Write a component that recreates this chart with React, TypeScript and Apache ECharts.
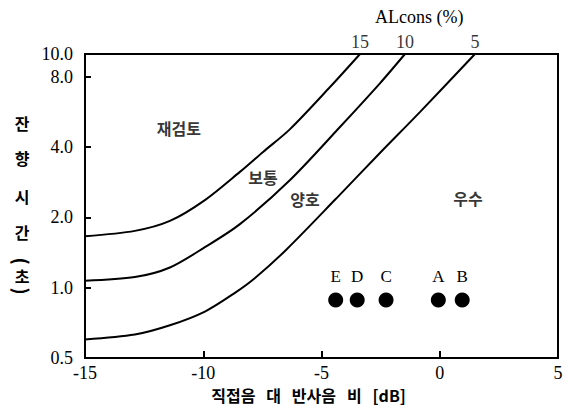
import React, { useEffect, useRef } from "react";
import * as echarts from "echarts";

// ALcons curves (x: direct-to-reverberant ratio dB, y: reverberation time s)
const curve15X = [-15, -12.89, -11.41, -9.93, -8.45, -7.47, -6.33, -4.64, -3.37];
const curve15Y = [1.66, 1.75, 1.93, 2.37, 3.13, 3.81, 4.77, 7.22, 10];
const curve10X = [-15, -12.89, -11.41, -9.93, -8.45, -6.33, -4.22, -2.53, -1.47];
const curve10Y = [1.07, 1.11, 1.22, 1.49, 1.87, 2.89, 4.87, 7.49, 10];
const curve5X = [-15, -12.89, -11.41, -9.93, -8.66, -7.81, -6.5, -4.39, -2.53, -0.84, 1.49];
const curve5Y = [0.6, 0.63, 0.69, 0.79, 0.95, 1.1, 1.45, 2.4, 3.77, 5.64, 10];
const curveNames = ["15", "10", "5"];

// Measured halls
const pointNames = ["E", "D", "C", "A", "B"];
const pointX = [-4.4, -3.49, -2.27, -0.06, 0.95];
const pointY = [0.885, 0.885, 0.885, 0.885, 0.885];

// Region labels
const regionNames = ["재검토", "보통", "양호", "우수"];
const regionX = [-11.03, -7.47, -5.7, 1.19];
const regionY = [4.8, 2.98, 2.39, 2.42];

const yLabelValues = [0.5, 1, 2, 4, 8, 10];
const yTickValues = [1, 2, 4, 8];
const yNameChars = ["잔", "향", "시", "간", "(", "초", ")"];
const yNameCharY = [123, 158, 196, 232, 261, 276, 291];
const yNameRot = [0, 0, 0, 0, -Math.PI / 2, 0, -Math.PI / 2];
const yNameSize = [16, 16, 16, 16, 19, 16, 19];

const SERIF = "'Liberation Serif', 'DejaVu Serif', serif";
const KR = "'Noto Sans CJK KR', sans-serif";

export default function App() {
  const ref = useRef<HTMLDivElement>(null);
  useEffect(() => {
    if (!ref.current) return;
    const chart = echarts.init(ref.current, null, { renderer: "svg" });
    const curves = [
      [curve15X, curve15Y],
      [curve10X, curve10Y],
      [curve5X, curve5Y],
    ];
    const lineSeries = curves.map(([xs, ys], k) => ({
      type: "line",
      name: curveNames[k],
      data: xs.map((x, i) => [x, ys[i]]),
      symbol: "none",
      smooth: 0.3,
      lineStyle: { color: "#000", width: 2 },
      silent: true,
    }));
    const endLabels = curves.map(([xs, ys], k) => ({
      name: curveNames[k],
      value: [xs[xs.length - 1], ys[ys.length - 1]],
    }));
    const option: any = {
      animation: false,
      backgroundColor: "#fff",
      grid: {
        left: 85,
        right: 13,
        top: 54,
        bottom: 52,
        show: true,
        borderColor: "#000",
        borderWidth: 2,
      },
      xAxis: {
        type: "value",
        min: -15,
        max: 5,
        interval: 5,
        name: "직접음   대   반사음   비   [dB]",
        nameLocation: "middle",
        nameGap: 21,
        nameTextStyle: {
          fontFamily: KR,
          fontSize: 16,
          fontWeight: "bold",
          color: "#000",
          padding: [0, 26, 0, 0],
        },
        axisLine: { onZero: false, lineStyle: { color: "#000", width: 2 } },
        axisTick: { inside: true, length: 7, lineStyle: { color: "#000", width: 2 } },
        axisLabel: { fontFamily: SERIF, fontSize: 18, color: "#000", margin: 6 },
        splitLine: { show: false },
      },
      yAxis: {
        type: "log",
        logBase: 10,
        min: 0.5,
        max: 10,
        axisLine: { onZero: false, lineStyle: { color: "#000", width: 2 } },
        axisTick: {
          inside: true,
          length: 6,
          customValues: yTickValues,
          lineStyle: { color: "#000", width: 2 },
        },
        axisLabel: {
          customValues: yLabelValues,
          formatter: (v: number) => v.toFixed(1),
          fontFamily: SERIF,
          fontSize: 18,
          color: "#000",
          margin: 12,
        },
        splitLine: { show: false },
        minorTick: { show: false },
      },
      graphic: [
        {
          type: "text",
          left: 375,
          top: 8,
          style: { text: "ALcons (%)", fontFamily: SERIF, fontSize: 18, fill: "#000" },
        },
        ...yNameChars.map((c, i) => ({
          type: "text",
          x: 22,
          y: yNameCharY[i],
          rotation: yNameRot[i],
          style: {
            text: c,
            fontFamily: KR,
            fontSize: yNameSize[i],
            fontWeight: "bold",
            fill: "#000",
            align: "center",
            verticalAlign: "middle",
          },
        })),
      ],
      series: [
        ...lineSeries,
        {
          type: "scatter",
          data: endLabels,
          symbolSize: 0,
          silent: true,
          label: {
            show: true,
            position: "top",
            distance: 3,
            formatter: "{b}",
            fontFamily: SERIF,
            fontSize: 18,
            color: "#000",
          },
        },
        {
          type: "scatter",
          data: regionNames.map((n, i) => ({ name: n, value: [regionX[i], regionY[i]] })),
          symbolSize: 0,
          silent: true,
          label: {
            show: true,
            position: "inside",
            formatter: "{b}",
            fontFamily: KR,
            fontSize: 16,
            fontWeight: "bold",
            color: "#000",
          },
        },
        {
          type: "scatter",
          data: pointNames.map((n, i) => ({ name: n, value: [pointX[i], pointY[i]] })),
          symbol: "circle",
          symbolSize: 15,
          itemStyle: { color: "#000", opacity: 1 },
          silent: true,
          label: {
            show: true,
            position: "top",
            distance: 8,
            formatter: "{b}",
            fontFamily: SERIF,
            fontSize: 17,
            color: "#000",
          },
        },
      ],
    };
    chart.setOption(option);
    return () => chart.dispose();
  }, []);
  return <div ref={ref} style={{ width: 571, height: 410, position: "absolute", left: 0, top: 0 }} />;
}
